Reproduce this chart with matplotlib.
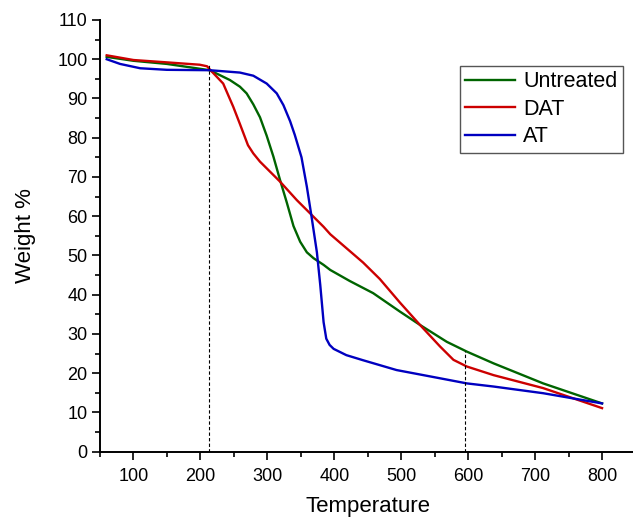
import matplotlib
matplotlib.use("Agg")
import matplotlib.pyplot as plt
from matplotlib.ticker import MultipleLocator

plt.rcParams["font.family"] = ["Liberation Sans", "DejaVu Sans"]

# Curvas TGA
temp_untreated = [60, 100, 150, 170, 214, 244, 259, 269, 279, 289, 299, 309, 319,
                  329, 339, 349, 359, 369, 384, 394, 423, 458, 498, 528, 568, 598,
                  638, 712, 800]
peso_untreated = [100.6, 99.6, 98.8, 98.3, 97.2, 94.7, 93.0, 91.3, 88.5, 85.2, 80.5,
                  75.2, 69.2, 63.5, 57.5, 53.5, 50.8, 49.3, 47.6, 46.3, 43.5, 40.4,
                  35.7, 32.3, 28.0, 25.5, 22.5, 17.4, 12.3]

temp_dat = [60, 100, 150, 199, 210, 214, 234, 249, 259, 271, 279, 289, 319, 344,
            364, 384, 394, 443, 468, 498, 528, 558, 578, 598, 638, 712, 800]
peso_dat = [101.0, 99.8, 99.2, 98.6, 98.2, 97.4, 93.8, 87.9, 83.5, 78.1, 76.0, 73.9,
            68.8, 64.1, 60.7, 57.3, 55.4, 48.2, 44.0, 38.0, 32.3, 26.8, 23.4, 21.7,
            19.5, 16.2, 11.1]

temp_at = [60, 80, 110, 150, 214, 259, 279, 299, 314, 324, 334, 341, 351, 359, 366,
           374, 379, 384, 388, 393, 399, 418, 443, 493, 558, 598, 638, 712, 800]
peso_at = [100.0, 98.8, 97.7, 97.3, 97.2, 96.6, 95.8, 93.8, 91.3, 88.3, 84.2, 80.7,
           75.0, 67.5, 59.9, 50.8, 42.5, 33.0, 28.8, 27.2, 26.2, 24.6, 23.3, 20.8,
           18.7, 17.4, 16.6, 14.9, 12.3]

# Líneas de referencia punteadas (temperatura, peso hasta donde llegan)
ref_temp = [213, 595]
ref_peso = [98.5, 25.6]

fig = plt.figure(figsize=(6.33, 5.19), dpi=100)
ax = fig.add_axes([0.158, 0.1297, 0.846, 0.8318])

ax.plot(temp_untreated, peso_untreated, color="#006400", lw=1.7, label="Untreated")
ax.plot(temp_dat, peso_dat, color="#cc0000", lw=1.7, label="DAT")
ax.plot(temp_at, peso_at, color="#0000c0", lw=1.7, label="AT")

for xt, yt in zip(ref_temp, ref_peso):
    ax.plot([xt, xt], [0, yt], color="black", lw=0.8, ls=(0, (3, 2)))

ax.set_xlim(50, 850)
ax.set_ylim(0, 110)
ax.xaxis.set_major_locator(MultipleLocator(100))
ax.xaxis.set_minor_locator(MultipleLocator(50))
ax.yaxis.set_major_locator(MultipleLocator(10))
ax.yaxis.set_minor_locator(MultipleLocator(5))
ax.set_xticks(range(100, 801, 100))

for s in ("top", "right"):
    ax.spines[s].set_visible(False)
for s in ("left", "bottom"):
    ax.spines[s].set_linewidth(1.4)

ax.tick_params(which="major", direction="out", length=6, width=1.2,
               labelsize=13, pad=3)
ax.tick_params(which="minor", direction="out", length=3.5, width=1.2)
ax.tick_params(axis="x", which="major", pad=6)

ax.set_xlabel("Temperature", fontsize=16, labelpad=8)
ax.set_ylabel("Weight %", fontsize=16, labelpad=15)

ax.legend(loc="upper right", bbox_to_anchor=(0.9765, 0.8935), borderaxespad=0,
          fontsize=15.5, fancybox=False, edgecolor="#555555", framealpha=1,
          handlelength=2.3, handletextpad=0.4, borderpad=0.25, labelspacing=0.3)

fig.savefig("out.png", dpi=100)
